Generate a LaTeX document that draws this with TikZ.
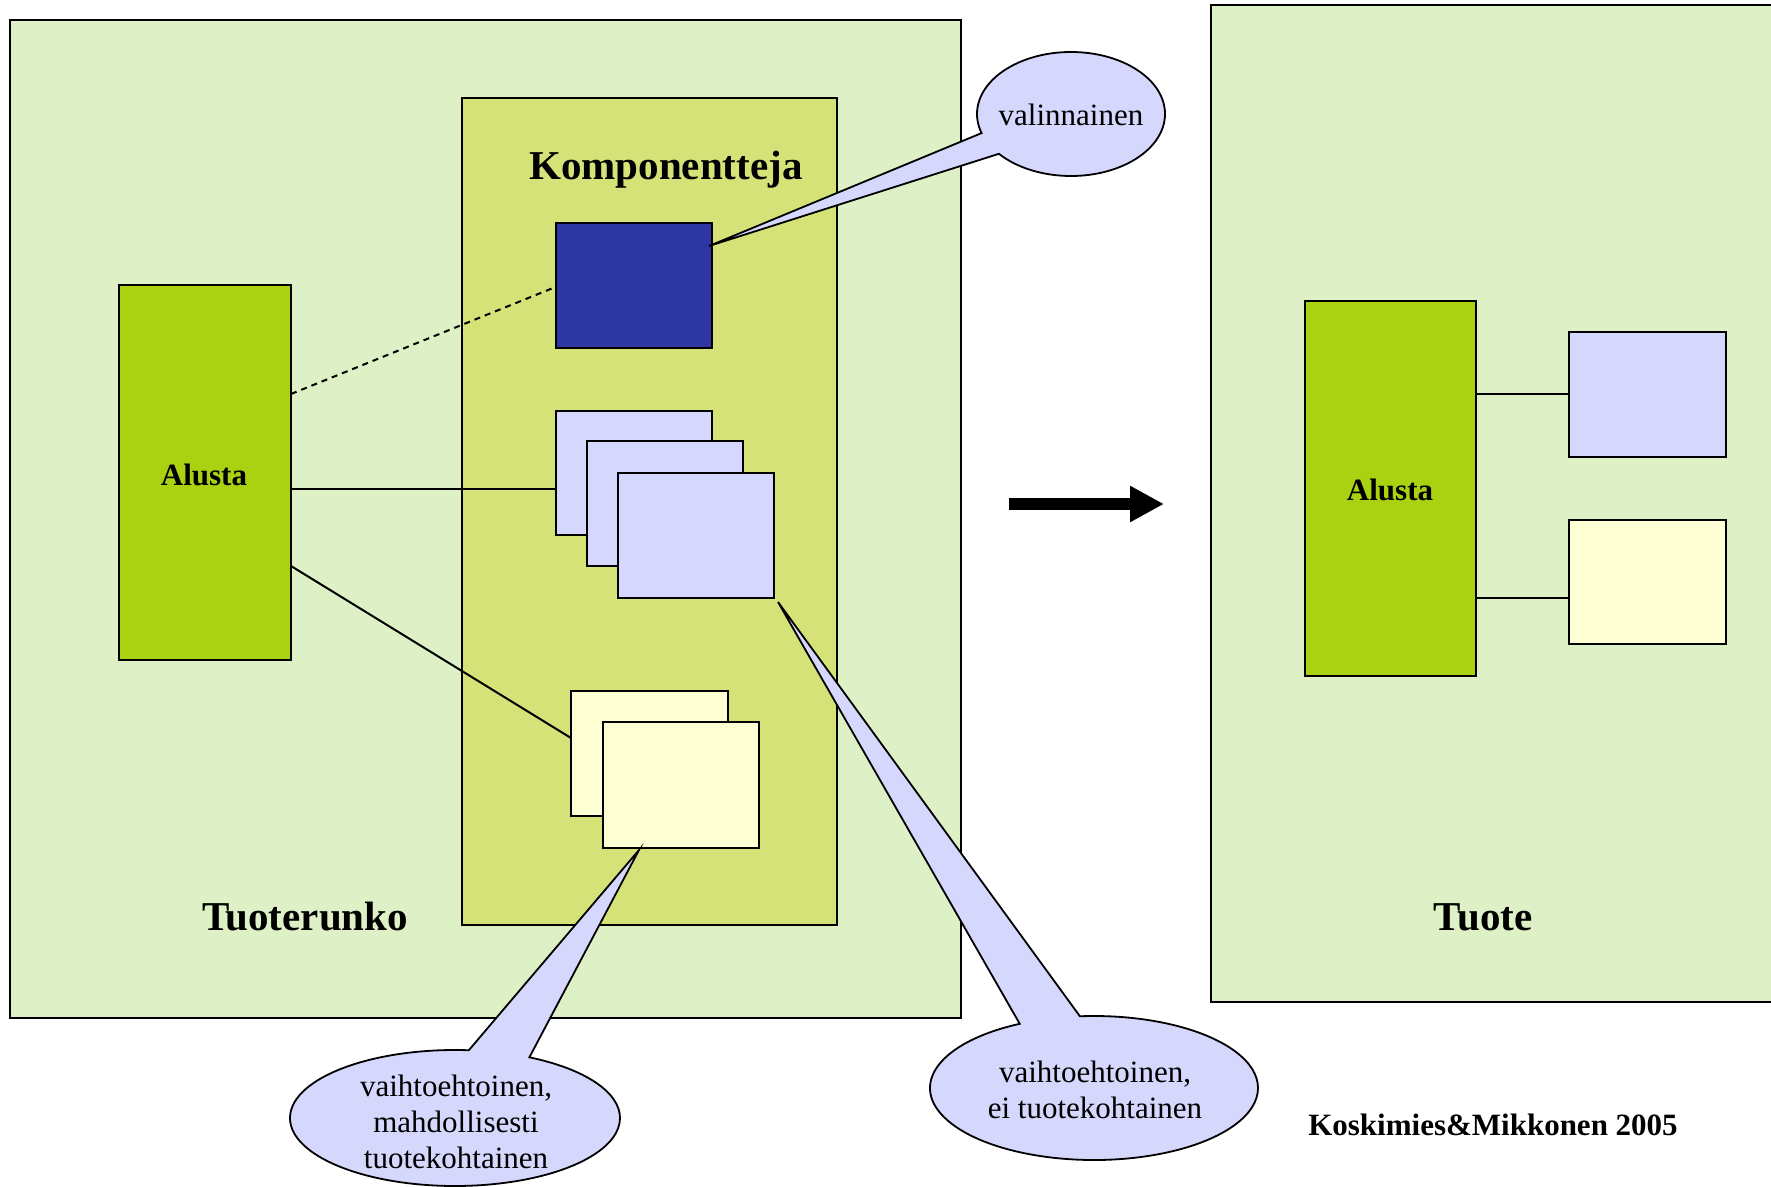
\documentclass[tikz,border=0pt]{standalone}
\usepackage{fontspec}
\setmainfont{Liberation Serif}
\usetikzlibrary{fit,shapes.callouts,arrows.meta}

\definecolor{bgGreen}{HTML}{DEF0C5}
\definecolor{kompGreen}{HTML}{D5E277}
\definecolor{alustaGreen}{HTML}{AAD211}
\definecolor{darkBlue}{HTML}{2E36A3}
\definecolor{lav}{HTML}{D5D7FC}
\definecolor{cream}{HTML}{FEFED5}

\begin{document}
\begin{tikzpicture}[x=0.5pt,y=-0.5pt,
  frame/.style={draw=black, line width=1pt, inner sep=0pt, outer sep=0pt},
  link/.style={draw=black, line width=1pt},
  bubble/.style={ellipse callout, draw=black, line width=0.9pt, fill=lav,
    inner sep=0pt, outer sep=0pt, callout pointer arc=22},
  bubbletext/.style={align=center, inner sep=0pt,
    font=\fontsize{15.5}{18}\selectfont},
  title/.style={inner sep=0pt, font=\fontsize{20.5}{24}\bfseries\selectfont},
  boldlabel/.style={inner sep=0pt, font=\fontsize{15.5}{18}\bfseries\selectfont}]

\clip (0,0) rectangle (1771,1187);

% --- product framework (left) ---
\node[frame, fill=bgGreen, fit={(9.5,20) (961,1018)}] (frameL) {};
\node[frame, fill=kompGreen, fit={(462,98.5) (837,925)}] (komp) {};
\node[frame, fill=alustaGreen, fit={(119,285.5) (291,660)}] (alustaL) {};
\node[boldlabel, anchor=base] (alustaLT) at (204,485) {Alusta};

\node[frame, fill=darkBlue, fit={(555.5,223) (712,348)}] (opt) {};
\node[frame, fill=lav, fit={(555.5,410.5) (712,535)}] (lavA) {};
\node[frame, fill=lav, fit={(587,441) (743,566)}] (lavB) {};
\node[frame, fill=lav, fit={(618,472.5) (774,598)}] (lavC) {};
\node[frame, fill=cream, fit={(571,691) (728,816)}] (creA) {};
\node[frame, fill=cream, fit={(603,722) (759,847.5)}] (creB) {};

\draw[link, dash pattern=on 3pt off 2.5pt] (alustaL.east |- 0,394) -- (opt.west |- 0,287);
\draw[link] (alustaL.east |- 0,488.5) -- (lavA.west |- 0,488.5);
\draw[link] (alustaL.east |- 0,566) -- (creA.west |- 0,738);

\node[title, anchor=base] (kompT) at (666,180) {Komponentteja};
\node[title, anchor=base] (runkoT) at (305,930) {Tuoterunko};

% --- product (right) ---
\node[frame, fill=bgGreen, fit={(1211,5) (1790,1002)}] (frameR) {};
\node[frame, fill=alustaGreen, fit={(1305,301.5) (1476,676)}] (alustaR) {};
\node[boldlabel, anchor=base] (alustaRT) at (1390,500) {Alusta};
\node[frame, fill=lav, fit={(1569,332.5) (1726,457)}] (lavR) {};
\node[frame, fill=cream, fit={(1569,520) (1726,644)}] (creR) {};
\draw[link] (alustaR.east |- 0,394.5) -- (lavR.west |- 0,394.5);
\draw[link] (alustaR.east |- 0,597.5) -- (creR.west |- 0,597.5);
\node[title, anchor=base] (tuoteT) at (1483,930) {Tuote};

% --- transformation arrow ---
\coordinate (arrS) at (1009,504);
\coordinate (arrE) at (1164,504);
\draw[line width=6pt, -{Triangle[length=17pt,width=17pt]}] (arrS) -- (arrE);

% --- callouts ---
\coordinate (tipOpt) at (709,246);
\coordinate (tipLav) at (778,602);
\coordinate (tipCre) at (639,850);

\node[bubble, minimum width=94pt, minimum height=62pt,
  callout absolute pointer={(tipOpt)}] (bOpt) at (1071,114) {};
\node[bubbletext, anchor=base] (bOptT) at (1071,126) {valinnainen};

\node[bubble, minimum width=164pt, minimum height=72pt,
  callout absolute pointer={(tipLav)}] (bLav) at (1094,1088) {};
\node[bubbletext] (bLavT) at (1095,1090) {vaihtoehtoinen,\\ei tuotekohtainen};

\node[bubble, minimum width=165pt, minimum height=68pt,
  callout absolute pointer={(tipCre)}] (bCre) at (455,1118) {};
\node[bubbletext] (bCreT) at (456,1122) {vaihtoehtoinen,\\mahdollisesti\\tuotekohtainen};

\node[boldlabel, anchor=base] (credit) at (1493,1135) {Koskimies\&Mikkonen 2005};

\end{tikzpicture}
\end{document}
